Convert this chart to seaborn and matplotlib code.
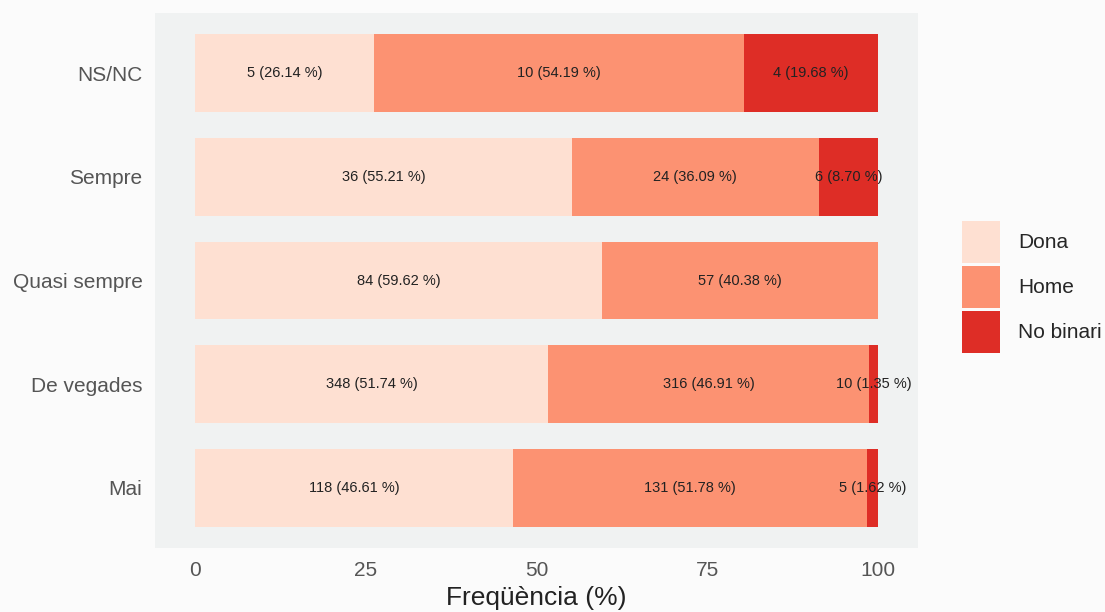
import numpy as np
import pandas as pd
import matplotlib
matplotlib.use('Agg')
import matplotlib.pyplot as plt
import seaborn as sns
from matplotlib.patches import Patch

categories = ["NS/NC", "Sempre", "Quasi sempre", "De vegades", "Mai"]
groups = ["Dona", "Home", "No binari"]
dona_n = [5, 36, 84, 348, 118]
home_n = [10, 24, 57, 316, 131]
nb_n = [4, 6, 0, 10, 5]
dona_pct = [26.14, 55.21, 59.62, 51.74, 46.61]
home_pct = [54.19, 36.09, 40.38, 46.91, 51.78]
nb_pct = [19.68, 8.70, 0.0, 1.35, 1.62]
colors = ["#fee0d2", "#fc9272", "#de2d26"]

df = pd.DataFrame({
    "cat": categories,
    "Dona": dona_pct, "Home": home_pct, "No binari": nb_pct,
})
df["c1"] = df["Dona"]
df["c2"] = df["Dona"] + df["Home"]
df["c3"] = df["c2"] + df["No binari"]

sns.set_theme(style="white")
plt.rcParams['font.family'] = ['Liberation Sans', 'DejaVu Sans']

fig = plt.figure(figsize=(11.05, 6.12), dpi=100, facecolor="#fbfbfb")
ax = fig.add_axes([155/1105, 1 - 548/612, (918 - 155)/1105, (548 - 13)/612])
ax.set_facecolor("#f0f2f2")

# stacked bars: draw cumulative totals back to front
for col, c in zip(["c3", "c2", "c1"], colors[::-1]):
    sns.barplot(data=df, y="cat", x=col, order=categories, orient="h",
                color=c, width=0.75, saturation=1, ax=ax, linewidth=0)

counts = [dona_n, home_n, nb_n]
pcts = [dona_pct, home_pct, nb_pct]
lefts = [np.zeros(5), np.array(dona_pct), np.array(dona_pct) + np.array(home_pct)]
for n, p, l in zip(counts, pcts, lefts):
    for i in range(5):
        if n[i] == 0:
            continue
        ax.text(l[i] + p[i] / 2, i, f"{n[i]} ({p[i]:.2f} %)", ha="center", va="center",
                fontsize=10.5, color="#222222")

ax.set_xlim(-5.86, 105.86)
ax.set_ylim(4.58, -0.58)
ax.set_xticks([0, 25, 50, 75, 100])
ax.set_xticklabels(["0", "25", "50", "75", "100"])
ax.tick_params(axis="both", length=0, labelsize=15, colors="#555555", pad=9)
ax.set_ylabel("")
ax.set_xlabel("Freqüència (%)", fontsize=19, color="#222222", labelpad=5)
for s in ax.spines.values():
    s.set_visible(False)
ax.grid(False)

handles = [Patch(facecolor=c, edgecolor="none", label=g) for c, g in zip(colors, groups)]
fig.legend(handles=handles, loc="center left", bbox_to_anchor=(962/1105, 1 - 287/612),
           frameon=False, fontsize=15, handlelength=1.8, handleheight=2.72,
           labelspacing=0.15, handletextpad=0.9, borderpad=0, borderaxespad=0)

fig.savefig("out.png", dpi=100, facecolor=fig.get_facecolor())
